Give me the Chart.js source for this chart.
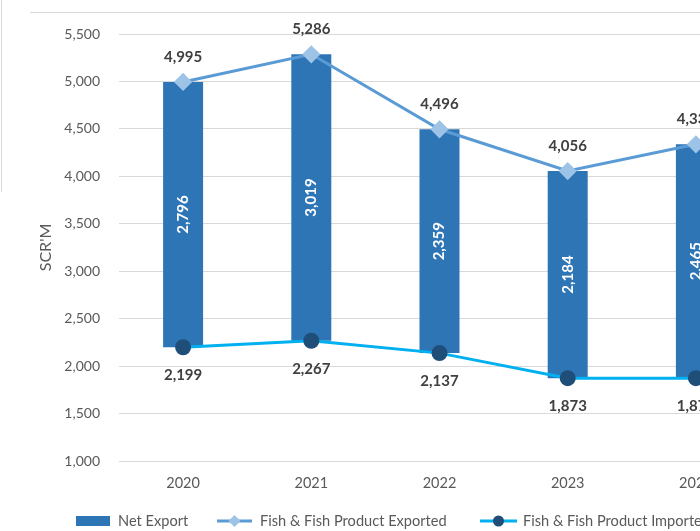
<!DOCTYPE html>
<html lang="en">
<head>
<meta charset="UTF-8">
<title>Fish &amp; Fish Product Trade</title>
<script src="https://cdn.jsdelivr.net/npm/chart.js"></script>
<style>
  body { margin: 0; width: 700px; height: 531px; overflow: hidden; background: #fff; }
  #wrap { width: 800px; height: 531px; }
</style>
</head>
<body>
<div id="wrap"><canvas id="tradeChart" width="800" height="531"></canvas></div>
<script>
// Trade figures, SCR million
const years = ['2020', '2021', '2022', '2023', '2024'];
const exported = [4995, 5286, 4496, 4056, 4338];
const imported = [2199, 2267, 2137, 1873, 1873];
const netExport = [2796, 3019, 2359, 2184, 2465];

const yMin = 1000;
const yMax = 5500;
const yStep = 500;

const FONT = 'Lato, "Open Sans", sans-serif';
const GREY = '#595959';
const LABEL = '#404040';
const fmt = v => v.toLocaleString('en-US');

// value labels: net inside bars, exports above points, imports below
const valueLabels = {
    id: 'valueLabels',
    afterDatasetsDraw(chart) {
        const ctx = chart.ctx;
        ctx.save();
        ctx.textAlign = 'center';
        ctx.textBaseline = 'middle';
        ctx.font = 'bold 15px ' + FONT;

        chart.getDatasetMeta(2).data.forEach((bar, i) => {
            ctx.save();
            ctx.translate(bar.x, (bar.y + bar.base) / 2);
            ctx.rotate(-Math.PI / 2);
            ctx.fillStyle = '#ffffff';
            ctx.fillText(fmt(netExport[i]), 0, 0);
            ctx.restore();
        });

        ctx.fillStyle = LABEL;
        chart.getDatasetMeta(0).data.forEach((pt, i) => {
            ctx.fillText(fmt(exported[i]), pt.x, pt.y - 25);
        });
        chart.getDatasetMeta(1).data.forEach((pt, i) => {
            ctx.fillText(fmt(imported[i]), pt.x, pt.y + 28);
        });
        ctx.restore();
    }
};

// frame lines and the legend row along the bottom
const extras = {
    id: 'extras',
    beforeDraw(chart) {
        const ctx = chart.ctx;
        ctx.save();
        ctx.strokeStyle = '#d9d9d9';
        ctx.lineWidth = 1;
        ctx.beginPath();
        ctx.moveTo(30, 12.5);
        ctx.lineTo(800, 12.5);
        ctx.moveTo(1.5, 0);
        ctx.lineTo(1.5, 192);
        ctx.stroke();
        ctx.restore();
    },
    afterDraw(chart) {
        const ctx = chart.ctx;
        const y = 521;
        ctx.save();
        ctx.font = '14.6px ' + FONT;
        ctx.textBaseline = 'middle';
        ctx.textAlign = 'left';

        ctx.fillStyle = '#2e75b6';
        ctx.fillRect(76, y - 5, 34, 10);
        ctx.fillStyle = GREY;
        ctx.fillText('Net Export', 118, y);

        ctx.strokeStyle = '#5b9bd5';
        ctx.lineWidth = 3;
        ctx.beginPath();
        ctx.moveTo(217, y);
        ctx.lineTo(252, y);
        ctx.stroke();
        ctx.fillStyle = '#9dc3e6';
        ctx.beginPath();
        ctx.moveTo(234.5, y - 6);
        ctx.lineTo(240.5, y);
        ctx.lineTo(234.5, y + 6);
        ctx.lineTo(228.5, y);
        ctx.closePath();
        ctx.fill();
        ctx.fillStyle = GREY;
        ctx.fillText('Fish & Fish Product Exported', 260, y);

        ctx.strokeStyle = '#00b0f0';
        ctx.beginPath();
        ctx.moveTo(480, y);
        ctx.lineTo(517, y);
        ctx.stroke();
        ctx.fillStyle = '#1f4e79';
        ctx.beginPath();
        ctx.arc(498.5, y, 5.5, 0, Math.PI * 2);
        ctx.fill();
        ctx.fillStyle = GREY;
        ctx.fillText('Fish & Fish Product Imported', 523, y);
        ctx.restore();
    }
};

new Chart(document.getElementById('tradeChart'), {
    data: {
        labels: years,
        datasets: [
            {
                type: 'line',
                label: 'Fish & Fish Product Exported',
                data: exported,
                borderColor: '#5b9bd5',
                borderWidth: 3,
                pointStyle: 'rectRot',
                pointRadius: 7,
                pointBackgroundColor: '#9dc3e6',
                pointBorderColor: '#9dc3e6',
                order: 1
            },
            {
                type: 'line',
                label: 'Fish & Fish Product Imported',
                data: imported,
                borderColor: '#00b0f0',
                borderWidth: 3,
                pointStyle: 'circle',
                pointRadius: 6.5,
                pointBackgroundColor: '#1f4e79',
                pointBorderColor: '#1f4e79',
                order: 2
            },
            {
                type: 'bar',
                label: 'Net Export',
                data: imported.map((v, i) => [v, v + netExport[i]]),
                backgroundColor: '#2e75b6',
                categoryPercentage: 1,
                barPercentage: 0.312,
                order: 3
            }
        ]
    },
    plugins: [extras, valueLabels],
    options: {
        responsive: false,
        animation: false,
        layout: { padding: { top: 34, right: 40, bottom: 30, left: 0 } },
        plugins: {
            legend: { display: false },
            tooltip: { enabled: false }
        },
        scales: {
            x: {
                grid: { display: false },
                border: { display: false },
                ticks: { color: GREY, font: { family: FONT, size: 14.5 }, padding: 6 },
                afterFit(scale) { scale.height = 40; }
            },
            y: {
                min: yMin,
                max: yMax,
                grid: { color: '#d9d9d9', drawTicks: false },
                border: { display: false },
                ticks: {
                    stepSize: yStep,
                    padding: 19,
                    color: GREY,
                    font: { family: FONT, size: 14 },
                    callback: v => fmt(v)
                },
                title: {
                    display: true,
                    text: "SCR'M",
                    color: GREY,
                    font: { family: FONT, size: 16 },
                    padding: { top: 36, bottom: 0 }
                },
                afterFit(scale) { scale.width = 119; }
            }
        }
    }
});
</script>
</body>
</html>
